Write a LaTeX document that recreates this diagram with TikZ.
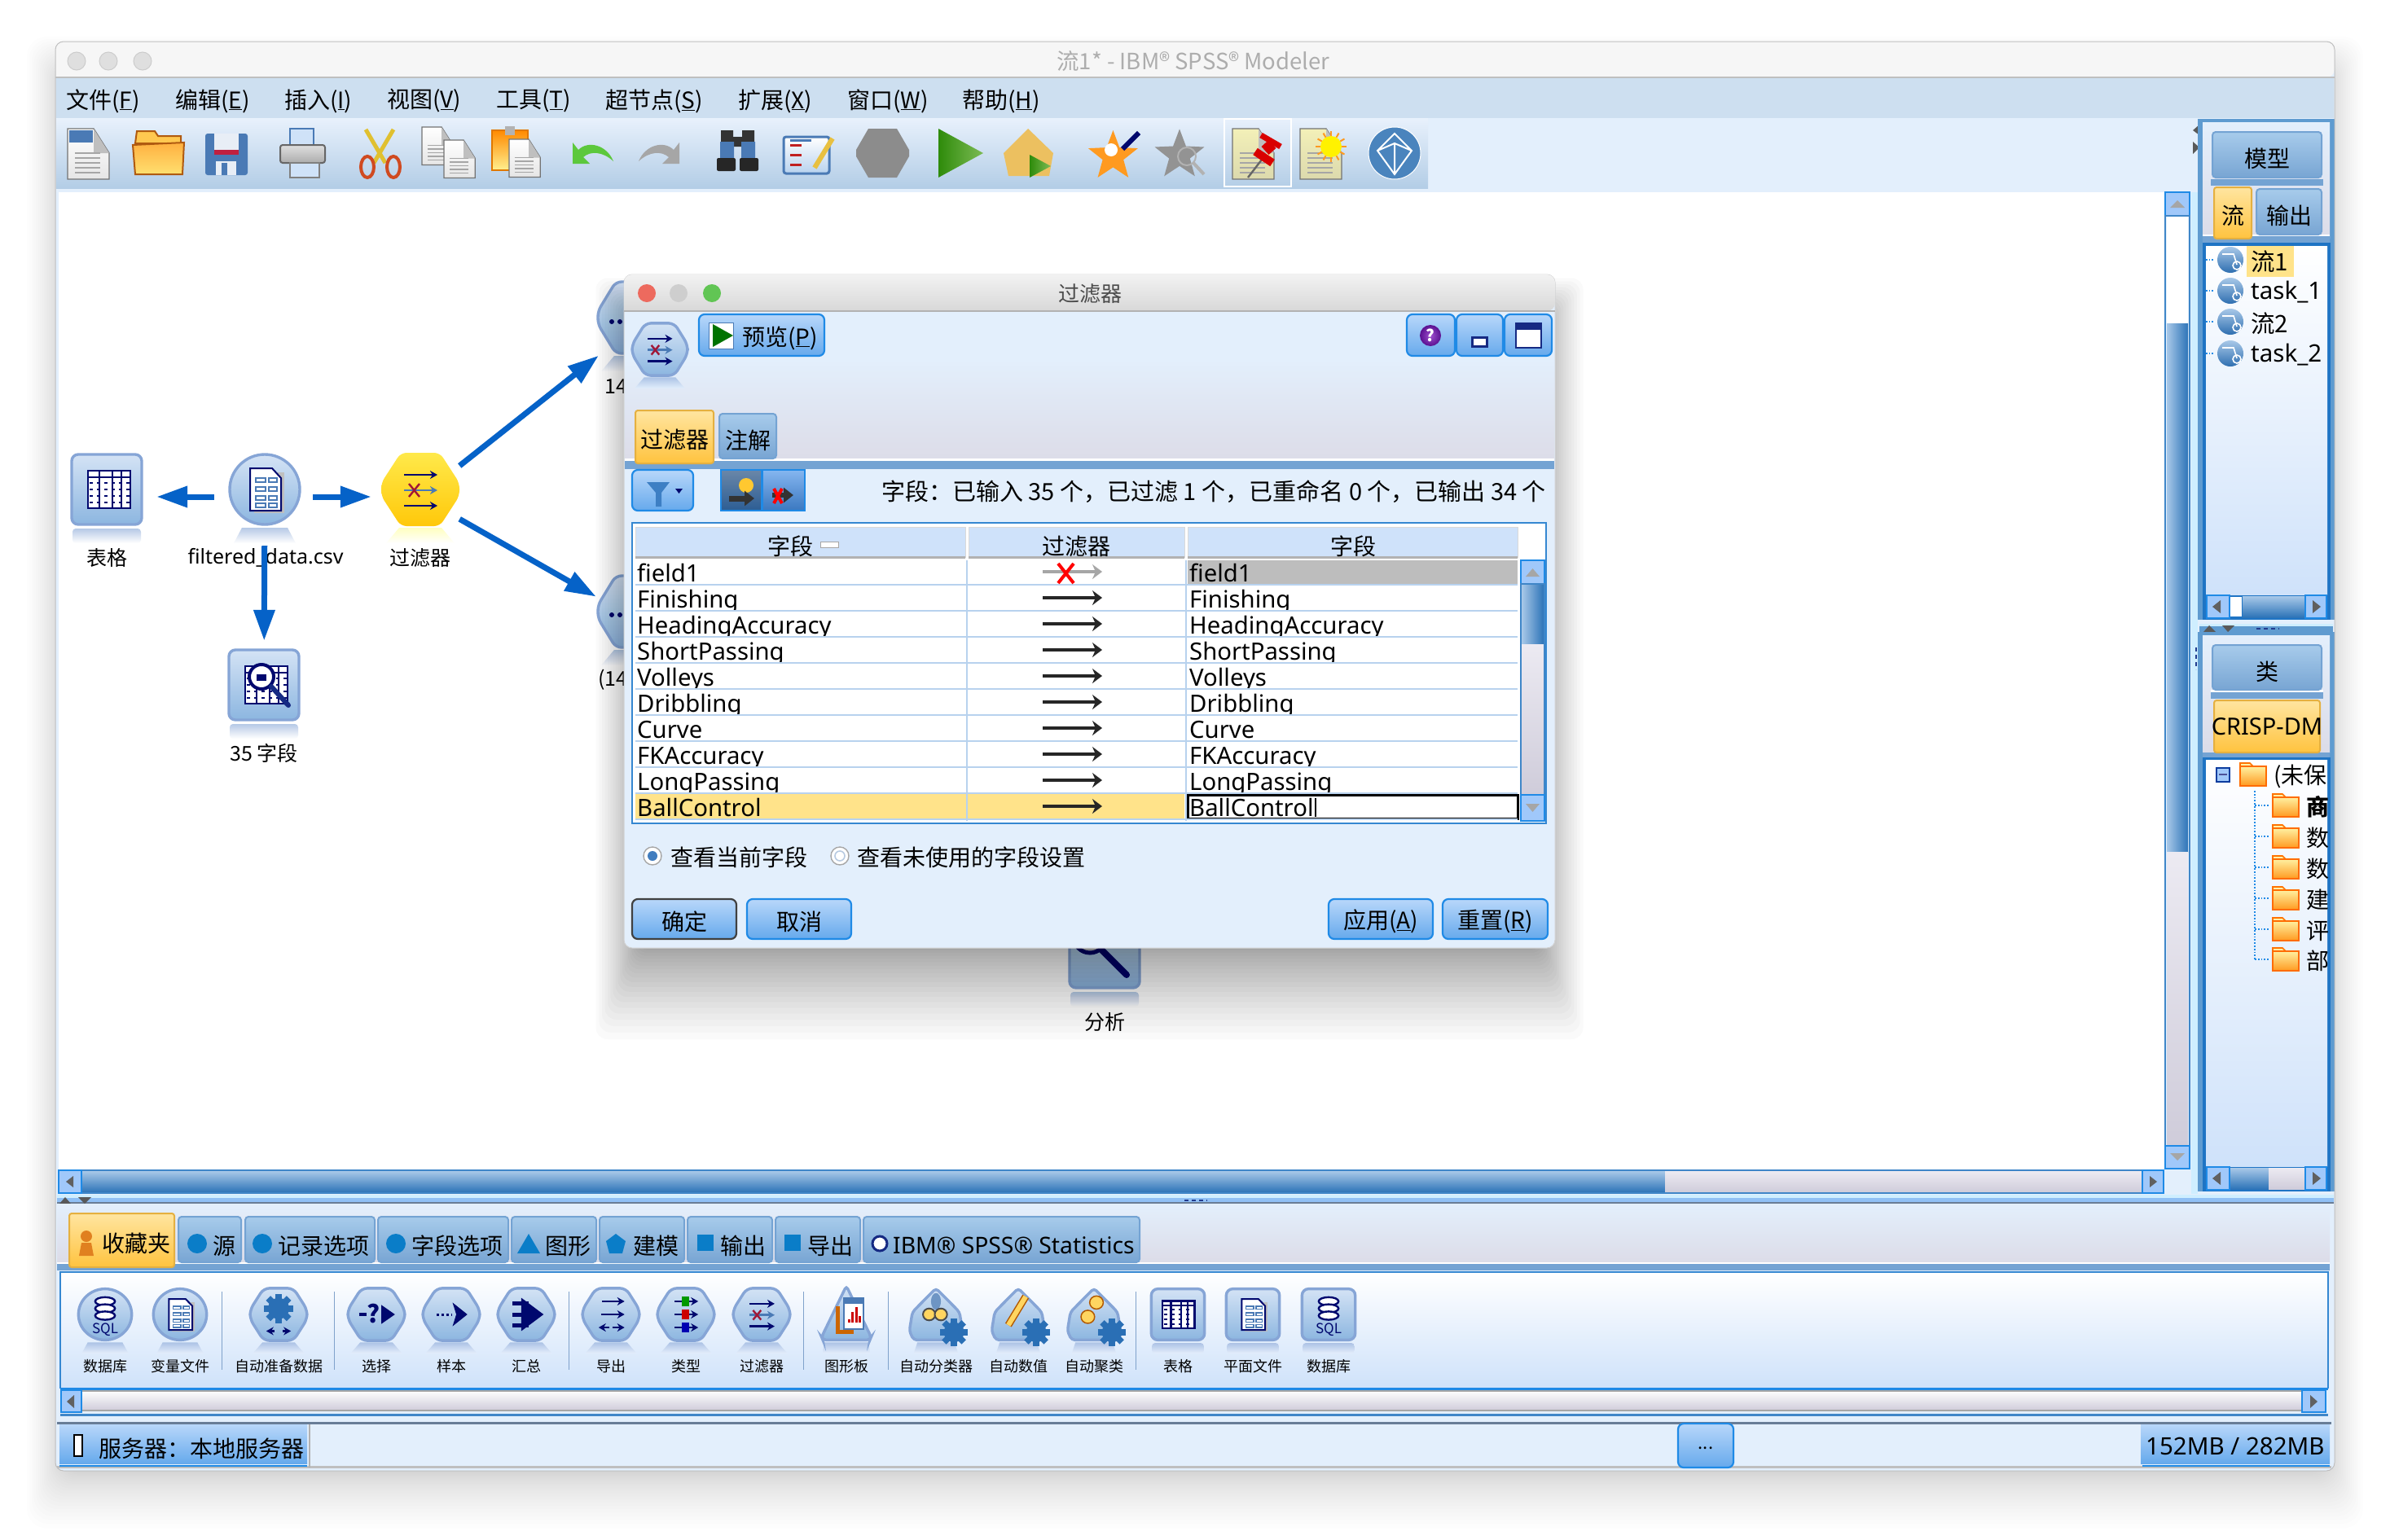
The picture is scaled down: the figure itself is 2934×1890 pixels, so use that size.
\documentclass[tikz,border=0pt]{standalone}
\usepackage{fontspec}
\setmainfont{Noto Sans CJK SC}
\newfontfamily\latn{Noto Sans}
\usetikzlibrary{arrows.meta,calc,positioning}

\definecolor{winbg}{HTML}{E3EFFC}
\definecolor{menubg}{HTML}{CDDFF0}
\definecolor{paneend}{HTML}{DCDCE8}
\definecolor{barblue}{HTML}{74A3D3}
\definecolor{frameblue}{HTML}{3F86C8}
\definecolor{tabtop}{HTML}{A7CBEB}
\definecolor{tabbot}{HTML}{78A5D3}
\definecolor{ontop}{HTML}{FFE5A0}
\definecolor{onbot}{HTML}{FFC33F}
\definecolor{onedge}{HTML}{E5B040}
\definecolor{iconedge}{HTML}{86A5D6}
\definecolor{icontop}{HTML}{D4E3F5}
\definecolor{iconbot}{HTML}{8CB6E0}
\definecolor{navyink}{HTML}{00086E}
\definecolor{flowblue}{HTML}{0562C8}
\definecolor{selrow}{HTML}{FFE38A}
\definecolor{rowline}{HTML}{B8D2EE}
\definecolor{btnedge}{HTML}{1F8AE6}
\definecolor{gearblue}{HTML}{2A6FB5}
\definecolor{steel}{HTML}{4A7AB5}
\definecolor{filterx}{HTML}{A01838}
\colorlet{reflbg}{white}
% shades named by their value
\newcommand{\hexcolor}[1]{\definecolor{#1}{HTML}{#1}}
\hexcolor{A8C8E8}\hexcolor{2F6FB0}\hexcolor{2D74B8}\hexcolor{A0C8FA}\hexcolor{ECEAF2}\hexcolor{CFCCDA}
\hexcolor{B8D7FA}\hexcolor{66A9EC}\hexcolor{FFD560}\hexcolor{FFF0A8}\hexcolor{FFF0A0}\hexcolor{FF9A20}
\hexcolor{FFE94A}\hexcolor{FFC80A}\hexcolor{F6F6F6}\hexcolor{E8F1FC}\hexcolor{B3CDE6}\hexcolor{B05A10}
\hexcolor{FFC850}\hexcolor{FFB040}\hexcolor{FFE070}\hexcolor{E8EEF6}\hexcolor{C02040}\hexcolor{CFE2F8}
\hexcolor{E0C030}\hexcolor{D04A20}\hexcolor{E07800}\hexcolor{FF8A00}\hexcolor{FFF090}\hexcolor{5CC83C}
\hexcolor{C02020}\hexcolor{E8C040}\hexcolor{2E8B0A}\hexcolor{7DBB55}\hexcolor{ECC060}\hexcolor{F3F0B8}
\hexcolor{CFEEFF}\hexcolor{F2F2F2}\hexcolor{D8D8D8}\hexcolor{ED6A5E}\hexcolor{CECECE}\hexcolor{61C554}
\hexcolor{A050D0}\hexcolor{5A1090}\hexcolor{CFE2FA}\hexcolor{6A87A8}\hexcolor{2C5D94}\hexcolor{FFC830}
\hexcolor{85B6F0}\hexcolor{3A78C0}\hexcolor{BDBDBD}\hexcolor{5F9BD0}\hexcolor{1F74C4}\hexcolor{90C0F5}
\hexcolor{E08020}\hexcolor{0A7DC8}\hexcolor{E6EFFC}\hexcolor{4A84BD}

\tikzset{
  rimbody/.style={draw=iconedge,line width=3.4pt,top color=icontop,bottom color=iconbot},
  reflbody/.style={top color=iconedge!60!reflbg,bottom color=reflbg},
  ink/.style={draw=navyink,line width=2.6pt},
  smallarrow/.style={navyink,line width=2.6pt,-{Stealth[length=9pt,width=10pt]}},
  pics/sqbody/.style={code={
    \shade[reflbody,rounded corners=4pt] (-42,48) rectangle (42,66);
    \draw[rimbody,rounded corners=8pt] (-43,-43) rectangle (43,43);}},
  pics/ovalbody/.style={code={
    \shade[reflbody] (-28,47) -- (28,47) -- (38,66) -- (-38,66) -- cycle;
    \draw[rimbody] (0,0) ellipse (43 and 43);}},
  pics/hexbody/.style={code={
    \shade[reflbody] (-26,47) -- (26,47) -- (42,66) -- (-42,66) -- cycle;
    \draw[rimbody,rounded corners=7pt] (-24,-44) -- (24,-44) -- (46,-8) -- (46,8) -- (24,44) -- (-24,44) -- (-46,8) -- (-46,-8) -- cycle;}},
  pics/filterhex/.style={code={
    \shade[top color=yellow!25!white,bottom color=white] (-26,47) -- (26,47) -- (42,66) -- (-42,66) -- cycle;
    \shade[top color=FFE94A,bottom color=FFC80A,rounded corners=7pt] (-24,-45) -- (24,-45) -- (48,-8) -- (48,8) -- (24,45) -- (-24,45) -- (-48,8) -- (-48,-8) -- cycle;}},
  pics/pentabody/.style={code={
    \shade[reflbody] (-30,47) -- (30,47) -- (36,66) -- (-36,66) -- cycle;
    \draw[rimbody,rounded corners=4pt] (0,-44) -- (38,-4) -- (43,28) -- (36,43) -- (-36,43) -- (-43,28) -- (-38,-4) -- cycle;}},
  pics/tribody/.style={code={
    \shade[reflbody] (-36,47) -- (36,47) -- (38,66) -- (-38,66) -- cycle;
    \draw[rimbody,rounded corners=4pt] (0,-48) -- (40,38) -- (38,43) -- (-38,43) -- (-40,38) -- cycle;}},
  pics/tableglyph/.style={code={
    \draw[ink,fill=white] (-25,-23) rectangle (27,23);
    \foreach \gx in {-11,5,16} \draw[ink] (\gx,-23) -- (\gx,23);
    \draw[ink] (-25,-15) -- (27,-15);
    \foreach \gy in {-8,0,8,16} \draw[navyink,line width=2pt,dash pattern=on 4pt off 5pt] (-23,\gy) -- (26,\gy);}},
  pics/docglyph/.style={code={
    \fill[gray!50] (-13,-21) rectangle (24,29);
    \draw[draw=navyink,line width=2pt,fill=white] (-18,-26) -- (9,-26) -- (20,-14) -- (20,26) -- (-18,26) -- cycle;
    \foreach \gy in {-14,-3,8,17} {
      \draw[draw=steel,line width=1.6pt] (-11,\gy) rectangle (1,\gy+5);
      \draw[draw=steel,line width=1.6pt] (5,\gy) rectangle (15,\gy+5);}}},
  pics/sqlglyph/.style={code={
    \foreach \gy in {-22,-10,2} \draw[draw=navyink,line width=2.4pt,fill=white] (0,\gy) ellipse (16 and 7);
    \node[font=\fontsize{17}{17}\selectfont,text=navyink,inner sep=0pt] (sqltext) at (0,26) {SQL};}},
  pics/magglyph/.style={code={
    \pic at (2,0) {tableglyph};
    \draw[draw=navyink,line width=4pt,fill=white] (-3,-10) circle (15);
    \fill[navyink] (-9,-13) rectangle (3,-5);
    \draw[navyink!70!steel,line width=6pt,line cap=round] (9,2) -- (30,25);}},
  pics/filterglyph/.style={code={
    \draw[smallarrow] (-20,-18) -- (21,-18);
    \draw[smallarrow,steel] (-20,1) -- (21,1);
    \draw[smallarrow] (-20,20) -- (21,20);
    \draw[draw=filterx,line width=2.4pt] (-14,-7) -- (-1,9) (-14,9) -- (-1,-7);}},
  pics/gearglyph/.style={code={
    \fill[gearblue] (0,0) circle (13);
    \foreach \ga in {0,45,...,315} \fill[gearblue,rotate=\ga] (-4,-18) rectangle (4,0);}},
  pics/prepglyph/.style={code={
    \pic at (0,-10) {gearglyph};
    \draw[smallarrow] (-6,28) -- (-20,28);
    \draw[smallarrow] (6,28) -- (20,28);}},
  pics/selectglyph/.style={code={
    \draw[navyink,line width=4pt] (-28,0) -- (-16,0);
    \node[font=\fontsize{30}{30}\selectfont\bfseries,text=navyink,inner sep=0pt] (qmark) at (-4,-2) {?};
    \fill[navyink] (8,-16) -- (30,0) -- (8,16) -- cycle;}},
  pics/sampleglyph/.style={code={
    \draw[navyink,line width=3pt,dash pattern=on 3pt off 3pt] (-24,0) -- (0,0);
    \fill[navyink] (2,-20) -- (26,0) -- (2,20) -- (8,0) -- cycle;}},
  pics/mergeglyph/.style={code={
    \foreach \gy in {-18,0,18} \draw[navyink,line width=5pt] (-22,\gy) -- (4,\gy);
    \fill[navyink] (-8,-28) -- (28,0) -- (-8,28) -- cycle;}},
  pics/exportglyph/.style={code={
    \draw[smallarrow] (-14,-22) -- (22,-22);
    \draw[smallarrow] (-16,0) -- (22,0);
    \draw[smallarrow] (2,22) -- (22,22);
    \draw[smallarrow] (-2,22) -- (-20,22);}},
  pics/typeglyph/.style={code={
    \foreach \gy/\gc in {-22/green!60!black,0/red!80!black,22/blue!70!black} {
      \draw[smallarrow] (-18,\gy) -- (20,\gy);
      \fill[\gc] (-7,\gy-8) rectangle (5,\gy+8);}}},
  pics/graphglyph/.style={code={
    \draw[draw=orange!80!black,line width=5pt] (-14,-14) -- (-14,30) -- (12,30);
    \draw[draw=steel,line width=2pt,fill=white] (-4,-28) rectangle (28,25);
    \fill[steel] (-4,-28) rectangle (28,-18);
    \foreach \gx/\gy in {2/8,8/-4,14/-12,20/3} \fill[red!80!black] (\gx,\gy) rectangle (\gx+4,14);}},
  pics/classglyph/.style={code={
    \fill[steel!80!white] (0,-22) ellipse (8 and 14);
    \draw[draw=black!70,line width=2pt,fill=FFD560] (-11,0) circle (10);
    \draw[draw=black!70,line width=2pt,fill=FFD560] (8,0) circle (10);
    \pic[scale=.95] at (29,30) {gearglyph};}},
  pics/numglyph/.style={code={
    \draw[draw=orange!70!black,line width=9pt] (-16,18) -- (12,-30);
    \draw[draw=FFD560,line width=6pt] (-16,18) -- (12,-30);
    \pic[scale=.95] at (29,30) {gearglyph};}},
  pics/clusterglyph/.style={code={
    \draw[draw=orange!70!black,line width=1.5pt,fill=FFD560] (4,-20) circle (11);
    \draw[draw=orange!70!black,line width=1.5pt,fill=FFD560] (-10,4) circle (11);
    \pic[scale=.95] at (29,30) {gearglyph};}},
  pics/pagedoc/.style={code={
    \draw[draw=black!55,line width=1.4pt,top color=#1,bottom color=#1!80!gray] (0,0) -- (32,0) -- (51,30) -- (51,62) -- (0,62) -- cycle;
    \fill[gray!50] (32,0) -- (32,30) -- (51,30) -- cycle;
    \foreach \dy in {30,36,...,54} \draw[gray!70,line width=1.6pt] (9,\dy) -- (40,\dy);}},
  pics/streamdot/.style={code={
    \shade[top color=A8C8E8,bottom color=2F6FB0] (0,0) ellipse (16 and 16);
    \draw[white,line width=1.6pt] (-10,-7) -- (4,-7) -- (8,6);
    \draw[white,line width=1.6pt] (8,7) circle (5);}},
  pics/folderico/.style={code={
    \draw[draw=orange!90!red,line width=1.6pt,fill=FFF0A8] (0,-10) -- (0,-14) -- (12,-14) -- (16,-10) -- cycle;
    \draw[draw=orange!85!red,line width=2.4pt,top color=FFF0A0,bottom color=FF9A20] (0,-10) rectangle (32,14);}},
  sbbtn/.style={draw=btnedge,line width=2pt,fill=A0C8FA},
  sbthumb/.style={top color=A8C8E8,bottom color=2D74B8},
  sbvthumb/.style={left color=A8C8E8,right color=2D74B8},
  sbtrack/.style={top color=ECEAF2,bottom color=CFCCDA},
  sbtip/.style={fill=gray!75!black},
  griptip/.style={fill=gray!70!black},
  gripdot/.style={navyink!55!steel,line width=2.4pt,dash pattern=on 5pt off 4pt},
  tabidle/.style={draw=barblue,line width=2pt,top color=tabtop,bottom color=tabbot,rounded corners=4pt},
  tabactive/.style={draw=onedge,line width=2pt,top color=ontop,bottom color=onbot,rounded corners=3pt},
  btn/.style={draw=btnedge,line width=2.2pt,top color=B8D7FA,bottom color=66A9EC,rounded corners=7pt},
  menutext/.style={anchor=west,inner sep=0pt,font=\fontsize{28}{32}\selectfont},
  uitext/.style={anchor=west,inner sep=0pt,font=\fontsize{28}{32}\selectfont},
  midtext/.style={inner sep=0pt,yshift=-3pt,font=\fontsize{28}{32}\selectfont},
  pallabel/.style={inner sep=0pt,font=\fontsize{18}{20}\selectfont},
  nodelabel/.style={inner sep=0pt,font=\fontsize{25}{28}\selectfont},
  rowtext/.style={anchor=base west,inner sep=0pt,font=\latn\fontsize{29.3}{30}\selectfont},
  treetext/.style={anchor=west,inner sep=0pt,font=\latn\fontsize{29.5}{32}\selectfont},
  iconbox/.style={rectangle,inner sep=0pt,minimum width=#1,minimum height=110pt},
  flow/.style={draw=flowblue,line width=7pt,-{Triangle[length=38pt,width=25pt]}},
  rowarrow/.style={draw=black!85,line width=3.4pt,-{Stealth[length=12pt,width=18pt]}},
  hair/.style={draw=#1,line width=1.6pt}
}

\newcommand{\palicon}[4]{%
  \pic[xscale=.76,yscale=.73] at (#1,1614) {#2};
  \pic[xscale=.76,yscale=.73] at (#1,1614) {#3};
  \node[pallabel] (pal#1) at (#1,1678) {#4};}
\newcommand{\starpts}{(0,-1) -- (.247,-.34) -- (.951,-.309) -- (.4,.13) -- (.588,.809) -- (0,.42) -- (-.588,.809) -- (-.4,.13) -- (-.951,-.309) -- (-.247,-.34) -- cycle}

\begin{document}
\begin{tikzpicture}[x=1pt,y=-1pt]
  \useasboundingbox (0,0) rectangle (2934,1890);

  % soft shadow of the window
  \foreach \s in {1,...,30}
    \fill[black,opacity=.008,rounded corners=24pt] (78-.05*\s*\s,90-.05*\s*\s) rectangle (2856+.05*\s*\s,1800+.085*\s*\s);

  \fill[winbg,rounded corners=10pt] (68,51) rectangle (2866,1806);
  \fill[F6F6F6] (68,95) [rounded corners=10pt] -- (68,51) -- (2866,51) -- (2866,95) [sharp corners] -- cycle;
  \draw[hair=gray!50] (68,95) -- (2866,95);
  \foreach \tx in {94,133,175}
    \draw[draw=gray!40,fill=gray!25,line width=1pt] (\tx,75) circle (11);
  \node[inner sep=0pt,text=black!32,font=\fontsize{27.5}{30}\selectfont] (wintitle) at (1465,75) {流1* - IBM® SPSS® Modeler};

  % menu
  \fill[menubg] (69,96) rectangle (2865,145);
  \foreach \mx/\mt [count=\n] in {81/文件(\underline{F}),215/编辑(\underline{E}),349/插入(\underline{I}),475/视图(\underline{V}),609/工具(\underline{T}),743/超节点(\underline{S}),906/扩展(\underline{X}),1040/窗口(\underline{W}),1181/帮助(\underline{H})}
    \node[menutext] (menu\n) at (\mx,124) {\mt};

  % toolbar
  \shade[top color=E8F1FC,bottom color=B3CDE6] (69,145) rectangle (1753,231);
  \pic at (83,158) {pagedoc=white};
  \fill[steel] (85,160) rectangle (114,175);
  \draw[draw=B05A10,line width=2pt,fill=FFC850] (166,176) -- (168,161) -- (190,161) -- (194,167) -- (222,167) -- (222,176) -- cycle;
  \draw[draw=B05A10,line width=2pt,top color=FFB040,bottom color=FFE070] (163,178) -- (226,175) -- (224,214) -- (166,214) -- cycle;
  \fill[steel,rounded corners=3pt] (252,164) rectangle (304,215);
  \fill[E8EEF6] (263,164) rectangle (293,190);
  \fill[C02040] (263,184) rectangle (293,190);
  \fill[E8EEF6] (265,198) rectangle (290,215);
  \fill[steel] (272,200) rectangle (279,215);
  \draw[draw=steel,line width=2pt,fill=CFE2F8] (356,158) rectangle (385,182);
  \draw[draw=black!60,line width=2pt,top color=gray!25,bottom color=gray!65,rounded corners=3pt] (344,178) rectangle (399,200);
  \draw[draw=gray,line width=2pt,fill=CFE2F8] (356,200) rectangle (392,218);
  \draw[draw=E0C030,line width=5pt] (449,159) -- (473,200);
  \draw[draw=E0C030,line width=5pt] (483,159) -- (459,200);
  \draw[draw=D04A20,line width=4pt] (451,205) ellipse (8 and 13);
  \draw[draw=D04A20,line width=4pt] (483,205) ellipse (8 and 13);
  \pic[scale=.75] at (518,156) {pagedoc=white};
  \pic[scale=.75] at (545,172) {pagedoc=white};
  \draw[draw=E07800,line width=2pt,top color=FF8A00,bottom color=FFF090] (604,160) rectangle (648,209);
  \fill[gray!60] (620,155) rectangle (632,166);
  \pic[scale=.75] at (625,171) {pagedoc=white};
  \fill[5CC83C] (703,175) -- (703,201) -- (724,201) -- (716,193) .. controls (725,185) and (740,186) .. (753,198) .. controls (745,178) and (722,172) .. (710,184) -- cycle;
  \fill[gray!70] (834,175) -- (834,201) -- (813,201) -- (821,193) .. controls (812,185) and (797,186) .. (784,198) .. controls (792,178) and (815,172) .. (827,184) -- cycle;
  \fill[black!80] (885,160) rectangle (900,176) (911,160) rectangle (926,176) (900,168) rectangle (911,180);
  \fill[steel] (884,174) rectangle (901,196) (910,174) rectangle (927,196);
  \fill[black!85,rounded corners=2pt] (880,194) rectangle (903,210) (908,194) rectangle (931,210);
  \draw[draw=steel,line width=3pt,top color=white,bottom color=rowline,rounded corners=3pt] (962,168) rectangle (1018,213);
  \foreach \ey in {178,190,202} \draw[draw=C02020,line width=3pt] (970,\ey) -- (984,\ey);
  \draw[draw=steel,line width=3pt] (970,172) -- (996,172);
  \draw[draw=E8C040,line width=6pt] (1000,206) -- (1022,170);
  \fill[gray!90] (1066,158) -- (1101,158) -- (1116,184) -- (1116,192) -- (1101,218) -- (1066,218) -- (1051,192) -- (1051,184) -- cycle;
  \shade[left color=2E8B0A,right color=7DBB55] (1152,158) -- (1207,188) -- (1152,218) -- cycle;
  \fill[ECC060] (1262,158) -- (1293,188) -- (1288,216) -- (1238,216) -- (1232,188) -- cycle;
  \shade[left color=2E8B0A,right color=7DBB55] (1264,190) -- (1290,204) -- (1264,218) -- cycle;
  \fill[FF9A20,scale=32,shift={(42.7,6)}] \starpts;
  \draw[draw=navyink,line width=6pt] (1378,183) -- (1398,163);
  \fill[white] (1364,184) circle (8);
  \fill[gray!85,scale=32,shift={(45.25,5.95)}] \starpts;
  \draw[draw=gray!60,line width=2pt] (1457,192) circle (11);
  \draw[draw=gray!60,line width=4pt] (1465,200) -- (1478,214);
  \draw[draw=white,line width=1.6pt] (1503,146) rectangle (1585,229);
  \pic at (1513,158) {pagedoc=F3F0B8};
  \draw[draw=gray!80!black,line width=2.4pt] (1532,218) -- (1552,192);
  \draw[draw=red!85!black,line width=10pt] (1541,186) -- (1562,200);
  \draw[draw=red!85!black,line width=12pt] (1553,176) -- (1562,186);
  \draw[draw=red!85!black,line width=7pt] (1548,166) -- (1572,180);
  \pic at (1596,158) {pagedoc=F3F0B8};
  \foreach \sa in {0,30,...,330} \draw[draw=FF9A20,line width=2pt,rotate around={\sa:(1634,180)}] (1634,161) -- (1634,167);
  \fill[yellow] (1634,180) circle (13);
  \draw[draw=white,line width=1pt,fill=4A84BD] (1712,188) ellipse (32 and 32);
  \draw[draw=white,line width=2pt] (1712,164) -- (1733,185) -- (1712,214) -- (1691,185) -- cycle (1691,185) -- (1712,176) -- (1733,185) (1712,176) -- (1712,214);

  % work area
  \fill[white] (72,236) rectangle (2658,1436);
  \fill[CFEEFF] (2690,236) rectangle (2698,1466);
  \fill[griptip] (2700,153) -- (2700,166) -- (2692,160) -- cycle;
  \fill[griptip] (2692,174) -- (2692,189) -- (2700,181) -- cycle;
  \draw[gripdot] (2696,795) -- (2696,822);
  \draw[sbbtn] (2658,236) rectangle (2688,265);
  \fill[gray!70] (2664,255) -- (2682,255) -- (2673,246) -- cycle;
  \fill[white] (2660,265) rectangle (2686,397);
  \shade[sbvthumb] (2660,397) rectangle (2686,1046);
  \shade[sbtrack] (2660,1046) rectangle (2686,1407);
  \draw[draw=frameblue,line width=2pt] (2658,265) rectangle (2688,1407);
  \draw[sbbtn] (2658,1407) rectangle (2688,1435);
  \fill[gray!70] (2664,1416) -- (2682,1416) -- (2673,1425) -- cycle;
  \shade[sbthumb] (100,1438) rectangle (2044,1464);
  \shade[sbtrack] (2044,1438) rectangle (2630,1464);
  \draw[draw=frameblue,line width=2pt] (72,1437) rectangle (2656,1465);
  \draw[sbbtn] (72,1437) rectangle (100,1465);
  \fill[sbtip] (90,1444) -- (90,1458) -- (81,1451) -- cycle;
  \draw[sbbtn] (2630,1437) rectangle (2656,1465);
  \fill[sbtip] (2639,1444) -- (2639,1458) -- (2648,1451) -- cycle;

  % stream on the canvas
  \node[iconbox=90pt] (table) at (131,610) {};
  \node[iconbox=90pt] (data) at (325,610) {};
  \node[iconbox=96pt] (filter) at (516,610) {};
  \node[iconbox=90pt] (fields) at (324,850) {};
  \node[iconbox=96pt] (upper) at (780,401) {};
  \node[iconbox=96pt] (lower) at (780,760) {};
  \pic at (131,601) {sqbody};
  \pic at (133,601) {tableglyph};
  \pic at (325,601) {ovalbody};
  \pic at (325,601) {docglyph};
  \pic at (516,601) {filterhex};
  \pic at (516,601) {filterglyph};
  \pic at (324,841) {sqbody};
  \pic at (324,841) {magglyph};
  \pic at (780,390) {hexbody};
  \pic at (780,751) {hexbody};
  \fill[navyink] (751,395) circle (3) (761,395) circle (3) (751,755) circle (3) (761,755) circle (3);
  \pic at (1356,1170) {sqbody};
  \draw[draw=navyink,line width=5pt,fill=gray!40] (1338,1150) circle (20);
  \draw[draw=navyink,line width=8pt,line cap=round] (1352,1166) -- (1383,1197);
  \node[nodelabel] (tablelabel) at (131,685) {表格};
  \node[nodelabel,font=\latn\fontsize{25}{28}\selectfont] (datalabel) at (326,685) {filtered\_data.csv};
  \node[nodelabel] (filterlabel) at (516,685) {过滤器};
  \node[nodelabel] (fieldslabel) at (324,925) {35 字段};
  \node[nodelabel,anchor=west] (upperlabel) at (742,475) {14};
  \node[nodelabel,anchor=west] (lowerlabel) at (734,835) {(14};
  \node[nodelabel] (analysislabel) at (1356,1255) {分析};

  \path (data) edge[flow,shorten <=17pt,shorten >=16pt] (table)
        (data) edge[flow,shorten <=14pt,shorten >=12pt] (filter)
        (data) edge[flow,shorten <=5pt,shorten >=8pt] (fields)
        (filter) edge[flow,shorten >=-4pt] (upper)
        (filter) edge[flow] (lower);

  % shadow of the dialog
  \foreach \s in {1,...,30}
    \fill[black,opacity=.018,rounded corners=14pt] (790-.065*\s*\s,400-.065*\s*\s) rectangle (1885+.065*\s*\s,1150+.14*\s*\s);

  % filter dialog
  \draw[draw=gray!35,line width=1pt,fill=winbg,rounded corners=10pt] (766,337) rectangle (1909,1164);
  \shade[top color=F2F2F2,bottom color=D8D8D8] (766,382) [rounded corners=10pt] -- (766,337) -- (1909,337) -- (1909,382) [sharp corners] -- cycle;
  \draw[hair=gray!60] (766,382) -- (1909,382);
  \foreach \tx/\tc in {794/ED6A5E,833/CECECE,874/61C554}
    \fill[\tc] (\tx,360) circle (11);
  \node[inner sep=0pt,text=black!70,font=\fontsize{26}{30}\selectfont] (dialogtitle) at (1338,361) {过滤器};
  \shade[top color=winbg,bottom color=paneend] (767,440) rectangle (1908,566);
  \colorlet{reflbg}{winbg}
  \pic[xscale=.74,yscale=.73] at (810,429) {hexbody};
  \pic[xscale=.74,yscale=.73] at (810,429) {filterglyph};

  \draw[btn] (858,386) rectangle (1012,437);
  \draw[draw=steel,line width=1pt,fill=white] (870,396) rectangle (900,428);
  \fill[green!45!black] (875,398) -- (900,412) -- (875,426) -- cycle;
  \node[uitext] (preview) at (911,415) {预览(\underline{P})};
  \draw[btn] (1727,386) rectangle (1786,437);
  \draw[btn] (1788,386) rectangle (1845,437);
  \draw[btn] (1847,386) rectangle (1905,437);
  \shade[inner color=A050D0,outer color=5A1090] (1756,412) circle (13);
  \node[inner sep=0pt,text=white,font=\fontsize{20}{20}\selectfont\bfseries] (helpmark) at (1756,412) {?};
  \draw[draw=navyink!70!steel,line width=3pt,fill=white] (1807,414) rectangle (1825,425);
  \draw[draw=navyink!70!steel,line width=2pt,fill=white] (1861,397) rectangle (1892,427);
  \fill[navyink!70!steel] (1861,397) rectangle (1892,405);

  \fill[white] (767,563) rectangle (1908,566);
  \fill[barblue] (767,566) rectangle (1908,576);
  \draw[tabidle] (883,508) rectangle node[midtext,yshift=-2pt] (tabnote) {注解} (953,563);
  \draw[tabactive] (780,504) rectangle node[midtext] (tabfilter) {过滤器} (876,569);

  \draw[btn] (776,577) rectangle (851,627);
  \fill[steel!70!btnedge] (794,592) -- (822,592) -- (812,605) -- (812,622) -- (805,622) -- (805,605) -- cycle;
  \fill[navyink] (829,600) -- (838,600) -- (833.5,606) -- cycle;
  \draw[draw=btnedge,line width=2pt,top color=6A87A8,bottom color=2C5D94] (885,577) rectangle (935,627);
  \fill[FFC830] (916,596) circle (9);
  \draw[draw=black!80,line width=7pt,-{Triangle[length=12pt,width=18pt]}] (895,612) -- (926,612);
  \draw[draw=btnedge,line width=2pt,top color=85B6F0,bottom color=3A78C0] (936,577) rectangle (988,627);
  \draw[draw=black!80,line width=6pt,-{Triangle[length=12pt,width=18pt]}] (948,608) -- (974,608);
  \draw[draw=red,line width=4pt] (950,600) -- (960,618) (960,600) -- (950,618);
  \node[inner sep=0pt,anchor=east,font=\fontsize{29}{32}\selectfont] (fieldcount) at (1898,604) {字段：已输入 35 个，已过滤 1 个，已重命名 0 个，已输出 34 个};

  % field table
  \draw[draw=frameblue!70!btnedge,line width=2pt,fill=white] (776,642) rectangle (1898,1011);
  \foreach \hl/\hr in {780/1185,1189/1454,1458/1863} {
    \draw[draw=gray!30,line width=1pt,fill=CFE2FA] (\hl,647) rectangle (\hr,684);
    \draw[draw=gray!60,line width=3pt] (\hl,684) -- (\hr,684);}
  \node[midtext] (headin) at (970,668) {字段};
  \draw[draw=gray!70,line width=1pt,fill=white] (1007,665) rectangle (1029,672);
  \node[midtext] (headfilter) at (1321,668) {过滤器};
  \node[midtext] (headout) at (1661,668) {字段};
  \fill[selrow] (780,974) rectangle (1454,1006);
  \fill[BDBDBD] (1458,688) rectangle (1863,718);
  \draw[draw=black,line width=3pt,fill=white] (1458,976) rectangle (1863,1005);
  \foreach \rowname [count=\r from 0] in {field1,Finishing,HeadingAccuracy,ShortPassing,Volleys,Dribbling,Curve,FKAccuracy,LongPassing,BallControl} {
    \pgfmathsetmacro\rowbot{718+32*\r}
    \begin{scope}
      \clip (780,\rowbot-31) rectangle (1863,\rowbot);
      \node[rowtext] (fieldin\r) at (782,\rowbot-4) {\rowname};
      \node[rowtext] (fieldout\r) at (1460,\rowbot-4) {\rowname};
    \end{scope}
    \draw[hair=rowline,line width=2.4pt] (780,\rowbot) -- (1863,\rowbot);
    \ifnum\r=0
      \draw[rowarrow,draw=gray!70] (1280,\rowbot-16) -- (1353,\rowbot-16);
    \else
      \draw[rowarrow] (1280,\rowbot-16) -- (1353,\rowbot-16);
    \fi
  }
  \draw[draw=red,line width=4pt] (1299,692) -- (1318,716) (1318,692) -- (1299,716);
  \draw[draw=black,line width=2pt] ([xshift=2pt]fieldout9.north east) -- ([xshift=2pt]fieldout9.south east);
  \draw[hair=rowline] (1187,688) -- (1187,1008);
  \draw[hair=rowline] (1456,688) -- (1456,1008);
  \draw[sbbtn] (1867,688) rectangle (1896,717);
  \fill[gray!70] (1873,708) -- (1890,708) -- (1881.5,698) -- cycle;
  \shade[sbvthumb] (1868,717) rectangle (1895,791);
  \shade[sbtrack] (1868,791) rectangle (1895,976);
  \draw[draw=frameblue,line width=1.5pt] (1867,717) rectangle (1896,976);
  \draw[sbbtn] (1867,976) rectangle (1896,1008);
  \fill[gray!70] (1873,987) -- (1890,987) -- (1881.5,997) -- cycle;

  \draw[draw=gray!70,line width=1.4pt,fill=white] (801,1051) circle (11);
  \fill[steel!80!btnedge] (801,1051) circle (6);
  \node[uitext] (viewcurrent) at (823,1053) {查看当前字段};
  \draw[draw=gray!70,line width=1.4pt,fill=white] (1031,1051) circle (11);
  \draw[draw=steel!40,line width=1.6pt] (1031,1051) circle (6);
  \node[uitext] (viewunused) at (1052,1053) {查看未使用的字段设置};
  \draw[btn,draw=black!75] (776,1104) rectangle node[midtext,text=black] (okbtn) {确定} (904,1153);
  \draw[btn] (917,1104) rectangle node[midtext] (cancelbtn) {取消} (1045,1153);
  \draw[btn] (1631,1104) rectangle node[midtext] (applybtn) {应用(\underline{A})} (1759,1153);
  \draw[btn] (1771,1104) rectangle node[midtext] (resetbtn) {重置(\underline{R})} (1900,1153);

  % right side, upper panel
  \colorlet{reflbg}{white}
  \fill[5F9BD0] (2698,146) rectangle (2866,761);
  \shade[top color=winbg,bottom color=paneend] (2704,150) rectangle (2860,292);
  \fill[barblue] (2714,220) rectangle (2852,228);
  \draw[tabidle] (2716,162) rectangle node[midtext,yshift=-2pt] (tabmodel) {模型} (2850,218);
  \fill[white] (2704,288) rectangle (2860,290);
  \fill[barblue] (2704,290) rectangle (2860,298);
  \draw[tabidle] (2770,232) rectangle node[midtext,yshift=-2pt] (taboutput) {输出} (2850,288);
  \draw[tabactive] (2718,230) rectangle node[midtext] (tabstream) {流} (2764,293);
  \fill[1F74C4] (2704,298) rectangle (2861,761);
  \shade[top color=white,bottom color=CFE2FA] (2708,302) rectangle (2857,730);
  \fill[selrow] (2758,302) rectangle (2816,340);
  \foreach \ty/\tn [count=\n] in {319/{\rmfamily 流1},357/task\_1,395/{\rmfamily 流2},434/task\_2} {
    \draw[draw=btnedge,line width=1.6pt,dotted] (2708,\ty) -- (2718,\ty);
    \pic at (2738,\ty) {streamdot};
    \node[treetext] (stream\n) at (2763,\ty+2) {\tn};}
  \shade[sbthumb] (2753,732) rectangle (2830,758);
  \fill[white] (2738,733) rectangle (2752,757);
  \draw[sbbtn] (2709,731) rectangle (2737,759);
  \fill[sbtip] (2726,737) -- (2726,753) -- (2716,745) -- cycle;
  \draw[sbbtn] (2830,731) rectangle (2856,759);
  \fill[sbtip] (2839,737) -- (2839,753) -- (2849,745) -- cycle;
  \fill[5F9BD0] (2700,769) rectangle (2864,776);
  \fill[CFEEFF] (2700,766) rectangle (2864,769);
  \fill[griptip] (2705,776) -- (2720,776) -- (2712,768) -- cycle;
  \fill[griptip] (2728,768) -- (2743,768) -- (2735,776) -- cycle;
  \draw[gripdot] (2770,772) -- (2798,772);

  % right side, lower panel
  \fill[5F9BD0] (2698,776) rectangle (2866,1463);
  \shade[top color=winbg,bottom color=paneend] (2704,780) rectangle (2860,924);
  \fill[barblue] (2714,850) rectangle (2852,858);
  \fill[white] (2714,847) rectangle (2852,850);
  \draw[tabidle] (2716,792) rectangle node[midtext,yshift=-2pt] (tabclass) {类} (2850,847);
  \fill[barblue] (2704,924) rectangle (2860,930);
  \draw[tabactive] (2718,860) rectangle node[midtext,yshift=3pt,font=\latn\fontsize{29}{30}\selectfont] (tabcrisp) {CRISP-DM} (2848,924);
  \fill[1F74C4] (2704,930) rectangle (2861,1463);
  \shade[top color=white,bottom color=CFE2FA] (2708,933) rectangle (2857,1432);
  \draw[draw=btnedge!40!navyink,line width=2pt,fill=A0C8FA] (2721,943) rectangle (2737,960);
  \draw[draw=navyink!70,line width=2pt] (2724,951) -- (2734,951);
  \pic at (2750,951) {folderico};
  \draw[draw=btnedge,line width=1.8pt,dotted] (2768,971) -- (2768,1178);
  \node[treetext,font=\fontsize{28}{32}\selectfont] (rootfolder) at (2791,953) {(未保};
  \foreach \ty/\tn [count=\n] in {989/{\bfseries 商},1027/数,1065/数,1103/建,1141/评,1178/部} {
    \draw[draw=btnedge,line width=1.8pt,dotted] (2768,\ty) -- (2786,\ty);
    \pic at (2790,\ty) {folderico};
    \node[treetext,font=\fontsize{28}{32}\selectfont] (phase\n) at (2831,\ty+2) {\tn};}
  \shade[sbthumb] (2737,1434) rectangle (2785,1460);
  \shade[sbtrack] (2785,1434) rectangle (2830,1460);
  \draw[sbbtn] (2709,1433) rectangle (2737,1461);
  \fill[sbtip] (2726,1439) -- (2726,1455) -- (2716,1447) -- cycle;
  \draw[sbbtn] (2830,1433) rectangle (2856,1461);
  \fill[sbtip] (2839,1439) -- (2839,1455) -- (2849,1447) -- cycle;

  % splitter and palette tabs
  \fill[CFEEFF] (70,1467) rectangle (2865,1471);
  \fill[90C0F5] (70,1471) rectangle (2865,1476);
  \fill[gray!60!steel] (70,1476) rectangle (2865,1478);
  \fill[griptip] (73,1478) -- (87,1478) -- (80,1470) -- cycle;
  \fill[griptip] (96,1470) -- (112,1470) -- (104,1478) -- cycle;
  \draw[gripdot] (1454,1474) -- (1482,1474);
  \shade[top color=winbg,bottom color=paneend] (70,1478) rectangle (2860,1550);
  \fill[white] (70,1550) rectangle (2860,1552);
  \fill[barblue] (70,1552) rectangle (2860,1560);
  \draw[tabidle] (219,1494) rectangle (296,1550);
  \draw[tabidle] (301,1494) rectangle (460,1550);
  \draw[tabidle] (464,1494) rectangle (624,1550);
  \draw[tabidle] (628,1494) rectangle (732,1550);
  \draw[tabidle] (736,1494) rectangle (840,1550);
  \draw[tabidle] (844,1494) rectangle (948,1550);
  \draw[tabidle] (952,1494) rectangle (1056,1550);
  \draw[tabidle] (1060,1494) rectangle (1399,1550);
  \draw[tabactive] (85,1490) rectangle (214,1556);
  \fill[E08020] (106,1518) circle (7);
  \fill[E08020] (97,1542) -- (100,1526) -- (112,1526) -- (115,1542) -- cycle;
  \node[uitext] (palfav) at (125,1527) {收藏夹};
  \fill[0A7DC8] (242,1527) circle (12);
  \node[uitext] (palsource) at (261,1530) {源};
  \fill[0A7DC8] (322,1527) circle (12);
  \node[uitext] (palrecord) at (341,1530) {记录选项};
  \fill[0A7DC8] (486,1527) circle (12);
  \node[uitext] (palfield) at (505,1530) {字段选项};
  \fill[0A7DC8] (649,1515) -- (663,1539) -- (635,1539) -- cycle;
  \node[uitext] (palgraph) at (669,1530) {图形};
  \fill[0A7DC8] (756,1515) -- (768,1524) -- (764,1539) -- (748,1539) -- (744,1524) -- cycle;
  \node[uitext] (palmodel) at (777,1530) {建模};
  \fill[0A7DC8] (856,1516) rectangle (876,1536);
  \node[uitext] (paloutput) at (884,1530) {输出};
  \fill[0A7DC8] (963,1516) rectangle (983,1536);
  \node[uitext] (palexport) at (991,1530) {导出};
  \draw[draw=navyink!70!steel,line width=3pt,fill=white] (1080,1527) circle (9);
  \node[uitext,font=\latn\fontsize{28.3}{30}\selectfont] (palspss) at (1096,1529) {IBM® SPSS® Statistics};

  % palette
  \shade[top color=white,bottom color=CFE2FA] (74,1562) rectangle (2858,1705);
  \draw[draw=frameblue!70!btnedge,line width=2pt] (74,1705) -- (74,1562) -- (2858,1562) -- (2858,1705);
  \colorlet{reflbg}{E6EFFC}
  \foreach \sx in {272,410,698,986,1090,1394}
    \draw[hair=steel!70,line width=1pt] (\sx,1586) -- (\sx,1682);
  \palicon{129}{ovalbody}{sqlglyph}{数据库}
  \palicon{221}{ovalbody}{docglyph}{变量文件}
  \palicon{342}{hexbody}{prepglyph}{自动准备数据}
  \palicon{462}{hexbody}{selectglyph}{选择}
  \palicon{554}{hexbody}{sampleglyph}{样本}
  \palicon{646}{hexbody}{mergeglyph}{汇总}
  \palicon{750}{hexbody}{exportglyph}{导出}
  \palicon{842}{hexbody}{typeglyph}{类型}
  \palicon{935}{hexbody}{filterglyph}{过滤器}
  \palicon{1039}{tribody}{graphglyph}{图形板}
  \palicon{1149}{pentabody}{classglyph}{自动分类器}
  \palicon{1250}{pentabody}{numglyph}{自动数值}
  \palicon{1343}{pentabody}{clusterglyph}{自动聚类}
  \palicon{1446}{sqbody}{tableglyph}{表格}
  \palicon{1538}{sqbody}{docglyph}{平面文件}
  \palicon{1631}{sqbody}{sqlglyph}{数据库}
  \shade[sbtrack,top color=white] (100,1707) rectangle (2826,1732);
  \draw[draw=btnedge,line width=3pt] (74,1705) -- (2858,1705);
  \draw[draw=gray!70,line width=2.5pt] (100,1708) -- (2826,1708) (100,1732) -- (2826,1732);
  \draw[draw=frameblue,line width=3pt] (74,1737) -- (2858,1737);
  \draw[sbbtn] (75,1707) rectangle (100,1734);
  \fill[sbtip] (91,1713) -- (91,1729) -- (82,1721) -- cycle;
  \draw[sbbtn] (2826,1707) rectangle (2855,1734);
  \fill[sbtip] (2836,1713) -- (2836,1729) -- (2845,1721) -- cycle;

  % status bar
  \fill[gray!55!steel] (70,1746) rectangle (2862,1749);
  \fill[gray!50] (70,1800) rectangle (2862,1803);
  \shade[top color=B8D7FA,bottom color=66A9EC] (73,1749) rectangle (377,1797);
  \draw[draw=btnedge,line width=2pt] (73,1800) -- (377,1800);
  \draw[draw=gray!60,line width=1.6pt] (380,1749) -- (380,1802);
  \draw[draw=black,line width=2.4pt,fill=white] (91,1762) rectangle (101,1788);
  \node[uitext] (server) at (121,1779) {服务器：本地服务器};
  \draw[btn] (2060,1748) rectangle (2128,1802);
  \node[inner sep=0pt,font=\fontsize{22}{22}\selectfont] (morebtn) at (2094,1778) {...};
  \shade[top color=B8D7FA,bottom color=66A9EC] (2628,1749) rectangle (2860,1797);
  \draw[draw=btnedge,line width=2pt] (2630,1800) -- (2860,1800);
  \node[uitext,font=\latn\fontsize{29.5}{32}\selectfont] (memory) at (2634,1776) {152MB / 282MB};
  \draw[draw=gray!50,line width=1pt,rounded corners=10pt] (68,51) rectangle (2866,1806);
\end{tikzpicture}
\end{document}
